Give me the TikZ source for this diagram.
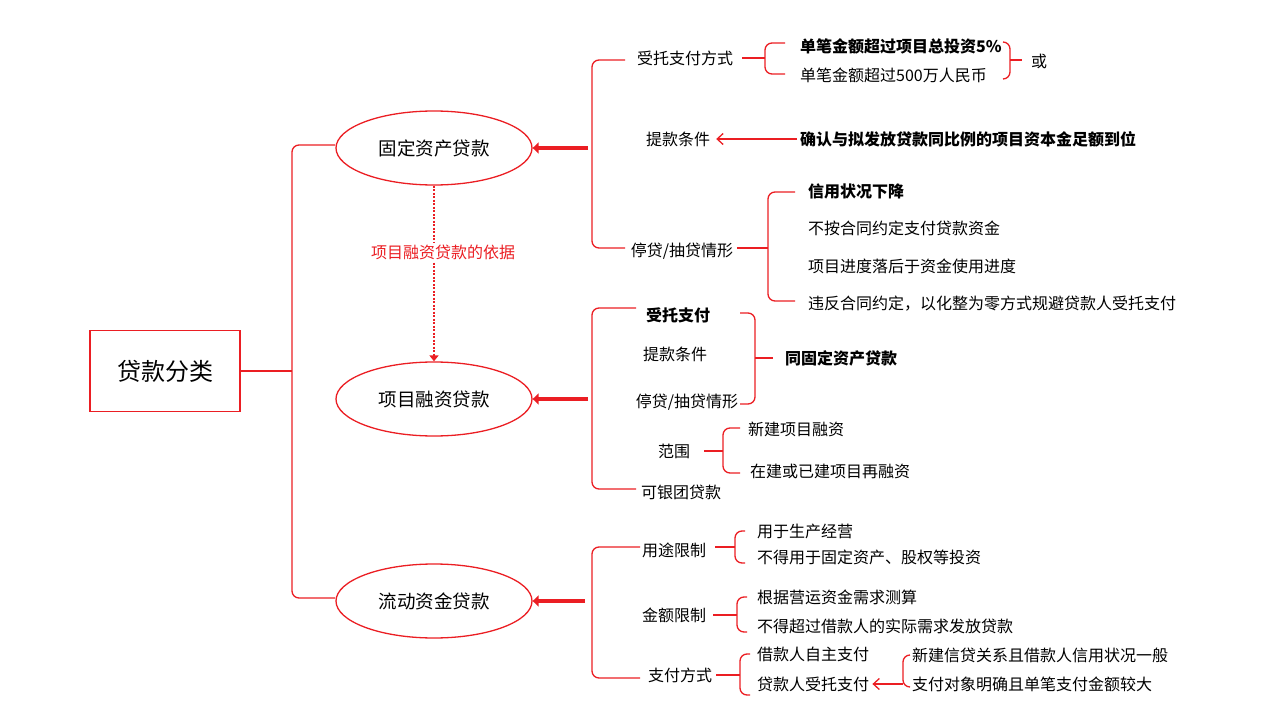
\documentclass[tikz,border=0pt]{standalone}
\usepackage{fontspec}
\setmainfont{Noto Sans CJK SC}
\usetikzlibrary{arrows.meta,shapes.geometric}
\definecolor{rd}{RGB}{235,30,35}
\tikzset{
 ln/.style={draw=rd,line width=1.3pt},
 br/.style={draw=rd,line width=1.3pt,rounded corners=7pt},
 tx/.style={font=\fontsize{16}{18}\selectfont,inner sep=0pt},
 lt/.style={tx,anchor=west},
 bt/.style={lt,font=\fontsize{16}{18}\selectfont\bfseries},
 el/.style={ellipse,draw=rd,line width=1.3pt,minimum width=196pt,minimum height=74pt,font=\fontsize{18.5}{20}\selectfont},
 thick/.style={draw=rd,line width=4pt,-{Triangle[length=6pt,width=11pt]}},
 thin/.style={draw=rd,line width=1.3pt,-{Straight Barb[length=6pt,width=11pt]}}
}
% left bracket: start x,y ; mid x ; top y ; bottom y ; end x
\newcommand\lbrk[6]{\draw[br] (#6,#4) -- (#3,#4) -- (#3,#5) -- (#6,#5); \draw[ln] (#1,#2) -- (#3,#2);}
\begin{document}
\begin{tikzpicture}[x=1pt,y=-1pt]
\useasboundingbox (0,0) rectangle (1270,706);
% root
\node[draw=rd,line width=1.3pt,minimum width=150pt,minimum height=81pt,font=\fontsize{24}{26}\selectfont] (root) at (165,371) {贷款分类};
\lbrk{241}{371}{292}{145}{598}{335}
% ellipses
\node[el] (e1) at (434,148) {固定资产贷款};
\node[el] (e2) at (434,399) {项目融资贷款};
\node[el] (e3) at (434,601) {流动资金贷款};
\coordinate (a1) at (588,148); \coordinate (a2) at (588,399); \coordinate (a3) at (585,601);
\draw[thick] (a1) -- (e1.east);
\draw[thick] (a2) -- (e2.east);
\draw[thick] (a3) -- (e3.east);
\draw[draw=rd,line width=2.5pt,dash pattern=on 2pt off 1.5pt,-{Triangle[length=6pt,width=9pt]}] (e1.south) -- (e2.north);
\node[tx,text=rd,fill=white,inner sep=2pt] (basis) at (443,252) {项目融资贷款的依据};
% group 1
\lbrk{592}{139}{592}{60}{248}{625}
\node[tx] (g1a) at (685,58) {受托支付方式};
\node[tx] (g1b) at (678,139) {提款条件};
\node[tx] (g1c) at (682,251) {停贷/抽贷情形};
\lbrk{742}{58}{765}{43}{74}{785}
\node[bt] (p1) at (800,46) {单笔金额超过项目总投资5\%};
\node[lt] (p2) at (800,75) {单笔金额超过500万人民币};
\draw[br] (1003,42) -- (1010,42) -- (1010,79) -- (1003,79); \draw[ln] (1010,60) -- (1022,60);
\node[tx] (or) at (1039,61) {或};
\node[bt] (cond) at (800,139) {确认与拟发放贷款同比例的项目资本金足额到位};
\draw[thin,shorten <=3pt,shorten >=6pt] (cond.west) -- (g1b.east);
\lbrk{737}{248}{768}{192}{301}{795}
\node[bt] (s1) at (808,191) {信用状况下降};
\node[lt] (s2) at (808,228) {不按合同约定支付贷款资金};
\node[lt] (s3) at (808,266) {项目进度落后于资金使用进度};
\node[lt] (s4) at (808,304) {违反合同约定，以化整为零方式规避贷款人受托支付};
% group 2
\lbrk{592}{400}{592}{308}{489}{636}
\node[tx,font=\fontsize{16}{18}\selectfont\bfseries] (g2a) at (678,315) {受托支付};
\node[tx] (g2b) at (675,354) {提款条件};
\node[tx] (g2c) at (687,402) {停贷/抽贷情形};
\node[tx] (g2d) at (674,451) {范围};
\node[tx] (g2e) at (681,492) {可银团贷款};
\draw[br] (740,313) -- (755,313) -- (755,404) -- (740,404); \draw[ln] (755,358) -- (773,358);
\node[bt] (same) at (785,358) {同固定资产贷款};
\lbrk{704}{451}{723}{428}{473}{740}
\node[lt] (r1) at (748,429) {新建项目融资};
\node[lt] (r2) at (750,471) {在建或已建项目再融资};
% group 3
\lbrk{592}{603}{592}{547}{678}{640}
\node[tx] (g3a) at (674,550) {用途限制};
\node[tx] (g3b) at (674,615) {金额限制};
\node[tx] (g3c) at (680,675) {支付方式};
\lbrk{715}{547}{735}{531}{563}{745}
\node[lt] (u1) at (757,531) {用于生产经营};
\node[lt] (u2) at (757,557) {不得用于固定资产、股权等投资};
\lbrk{713}{615}{737}{597}{632}{747}
\node[lt] (m1) at (757,597) {根据营运资金需求测算};
\node[lt] (m2) at (757,626) {不得超过借款人的实际需求发放贷款};
\lbrk{716}{675}{740}{654}{695}{750}
\node[lt] (w1) at (757,654) {借款人自主支付};
\node[lt] (w2) at (757,684) {贷款人受托支付};
\draw[br] (910,655) -- (903,655) -- (903,687) -- (910,687);
\coordinate (c1) at (903,684);
\draw[thin,shorten >=3pt] (c1) -- (w2.east);
\node[lt] (n1) at (912,655) {新建信贷关系且借款人信用状况一般};
\node[lt] (n2) at (912,684) {支付对象明确且单笔支付金额较大};
\end{tikzpicture}
\end{document}
